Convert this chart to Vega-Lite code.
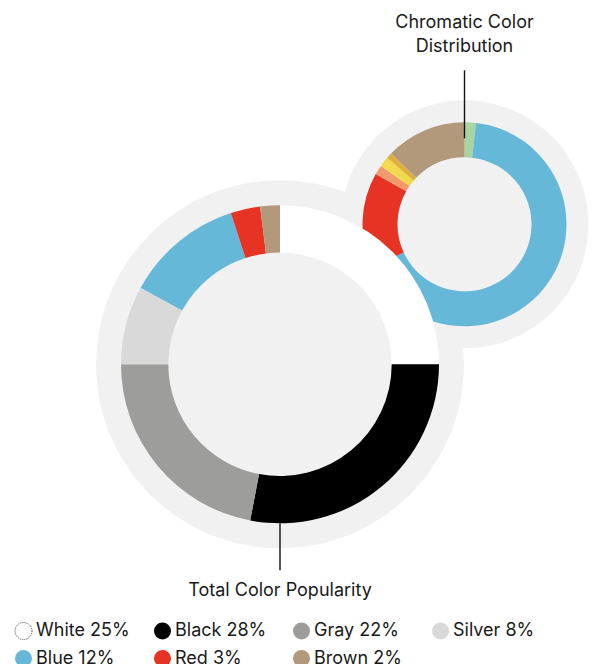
{
  "$schema": "https://vega.github.io/schema/vega-lite/v6.json",
  "width": 592,
  "height": 664,
  "padding": 0,
  "autosize": "none",
  "background": "white",
  "config": {"view": {"stroke": null}, "font": "Inter", "scale": {"pointPadding": 0}},
  "datasets": {
    "total": [
      {"chart": "Total Color Popularity", "color": "White", "label": "White 25%", "pct": 25, "i": 1},
      {"chart": "Total Color Popularity", "color": "Black", "label": "Black 28%", "pct": 28, "i": 2},
      {"chart": "Total Color Popularity", "color": "Gray", "label": "Gray 22%", "pct": 22, "i": 3},
      {"chart": "Total Color Popularity", "color": "Silver", "label": "Silver 8%", "pct": 8, "i": 4},
      {"chart": "Total Color Popularity", "color": "Blue", "label": "Blue 12%", "pct": 12, "i": 5},
      {"chart": "Total Color Popularity", "color": "Red", "label": "Red 3%", "pct": 3, "i": 6},
      {"chart": "Total Color Popularity", "color": "Brown", "label": "Brown 2%", "pct": 2, "i": 7}
    ],
    "chromatic": [
      {"chart": "Chromatic Color Distribution", "color": "Green", "pct": 1.8, "i": 1},
      {"chart": "Chromatic Color Distribution", "color": "Blue", "pct": 66.3, "i": 2},
      {"chart": "Chromatic Color Distribution", "color": "Red", "pct": 15.1, "i": 3},
      {"chart": "Chromatic Color Distribution", "color": "Orange", "pct": 1.5, "i": 4},
      {"chart": "Chromatic Color Distribution", "color": "Yellow", "pct": 1.6, "i": 5},
      {"chart": "Chromatic Color Distribution", "color": "Gold", "pct": 0.9, "i": 6},
      {"chart": "Chromatic Color Distribution", "color": "Brown", "pct": 12.8, "i": 7}
    ],
    "charts": [
      {"chart": "Total Color Popularity", "title": "Total Color Popularity"},
      {"chart": "Chromatic Color Distribution", "title": "Chromatic Color\nDistribution"}
    ]
  },
  "encoding": {
    "x": {"field": "chart", "type": "nominal", "axis": null,
      "scale": {"type": "point", "domain": ["Total Color Popularity", "Chromatic Color Distribution"], "range": [280, 464.5], "padding": 0, "paddingOuter": 0}},
    "y": {"field": "chart", "type": "nominal", "axis": null,
      "scale": {"type": "point", "domain": ["Total Color Popularity", "Chromatic Color Distribution"], "range": [364.3, 224.3], "padding": 0, "paddingOuter": 0}}
  },
  "layer": [
    {
      "data": {"name": "charts"},
      "transform": [{"filter": "datum.chart == 'Total Color Popularity'"}],
      "mark": {"type": "arc", "radius": 184, "theta": 0, "theta2": 6.2832, "color": "#f1f1f1"}
    },
    {
      "data": {"name": "charts"},
      "transform": [{"filter": "datum.chart == 'Chromatic Color Distribution'"}],
      "mark": {"type": "arc", "radius": 124, "theta": 0, "theta2": 6.2832, "color": "#f1f1f1"}
    },
    {
      "data": {"name": "chromatic"},
      "mark": {"type": "arc", "radius": 102, "innerRadius": 67},
      "encoding": {
        "theta": {"field": "pct", "type": "quantitative", "stack": true},
        "order": {"field": "i", "type": "quantitative"},
        "color": {"field": "color", "type": "nominal", "legend": null,
          "scale": {"domain": ["Green", "Blue", "Red", "Orange", "Yellow", "Gold", "Brown"],
            "range": ["#a8d5a0", "#66b8d9", "#e63323", "#f39a6c", "#f2d94e", "#ddb03f", "#b3997c"]}}
      }
    },
    {
      "data": {"name": "total"},
      "mark": {"type": "arc", "radius": 159, "innerRadius": 111.7},
      "encoding": {
        "theta": {"field": "pct", "type": "quantitative", "stack": true},
        "order": {"field": "i", "type": "quantitative"},
        "color": {"field": "label", "type": "nominal",
          "scale": {"domain": ["White 25%", "Black 28%", "Gray 22%", "Silver 8%", "Blue 12%", "Red 3%", "Brown 2%"],
            "range": ["#ffffff", "#000000", "#9d9d9b", "#d9d9d9", "#66b8d9", "#e63323", "#b3997c"]},
          "legend": {
            "orient": "none", "legendX": 14, "legendY": 621, "columns": 4, "direction": "horizontal",
            "title": null, "symbolType": "circle", "symbolSize": 290, "labelFontSize": 18, "labelFont": "Inter",
            "labelColor": "#1a1a1a", "columnPadding": 21, "rowPadding": 5, "labelOffset": 3, "gridAlign": "all",
            "labelLimit": 0, "symbolOpacity": 1,
            "encode": {"symbols": {"update": {
              "stroke": {"signal": "datum.value == 'White 25%' ? '#444444' : 'transparent'"},
              "strokeWidth": {"value": 1},
              "strokeDash": {"value": [1, 1]}
            }}}
          }}
      }
    },
    {
      "data": {"name": "charts"},
      "transform": [{"filter": "datum.chart == 'Total Color Popularity'"}],
      "mark": {"type": "rule", "yOffset": 159, "y2Offset": 206, "color": "#111111", "strokeWidth": 1.4},
      "encoding": {"y2": {"field": "chart"}}
    },
    {
      "data": {"name": "charts"},
      "transform": [{"filter": "datum.chart == 'Chromatic Color Distribution'"}],
      "mark": {"type": "rule", "yOffset": -154, "y2Offset": -86, "color": "#111111", "strokeWidth": 1.4},
      "encoding": {"y2": {"field": "chart"}}
    },
    {
      "data": {"name": "charts"},
      "transform": [{"filter": "datum.chart == 'Total Color Popularity'"}],
      "mark": {"type": "text", "dy": 227, "fontSize": 18, "font": "Inter", "color": "#1a1a1a", "baseline": "middle", "align": "center"},
      "encoding": {"text": {"field": "title"}}
    },
    {
      "data": {"name": "charts"},
      "transform": [{"filter": "datum.chart == 'Chromatic Color Distribution'"}],
      "mark": {"type": "text", "dy": -201, "fontSize": 18, "font": "Inter", "color": "#1a1a1a", "baseline": "middle", "align": "center", "lineBreak": "\n", "lineHeight": 24},
      "encoding": {"text": {"field": "title"}}
    }
  ],
  "resolve": {"scale": {"color": "independent", "theta": "independent"}}
}
